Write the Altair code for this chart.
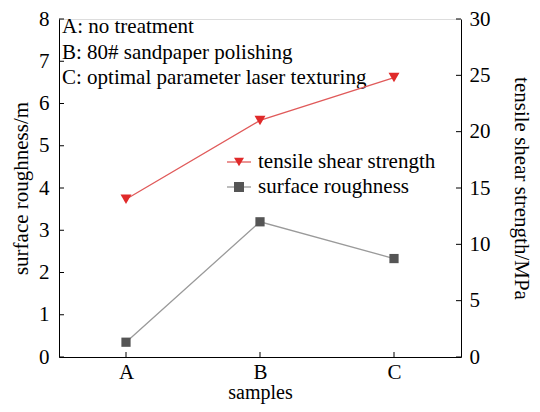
import altair as alt
import pandas as pd

samples = ["A", "B", "C"]
sample_pos = [1, 2, 3]
roughness = [0.35, 3.2, 2.33]
strength = [14.0, 21.0, 24.8]
notes = ["A: no treatment", "B: 80# sandpaper polishing", "C: optimal parameter laser texturing"]
series_names = ["tensile shear strength", "surface roughness"]
left_ticks = [0, 1, 2, 3, 4, 5, 6, 7, 8]
right_ticks = [0, 5, 10, 15, 20, 25, 30]

FONT = "Liberation Serif"
FS = 21
W, H = 402, 338

df_r = pd.DataFrame({"pos": sample_pos, "val": roughness, "series": series_names[1]})
df_s = pd.DataFrame({"pos": sample_pos, "val": strength, "series": series_names[0]})
df_notes = pd.DataFrame({"t": notes, "i": [0, 1, 2]})
df_leg = pd.DataFrame({"series": series_names, "i": [0, 1]})

xscale = alt.Scale(domain=[0.5, 3.5], nice=False, zero=False)
yl = alt.Scale(domain=[0, 8], nice=False)
yr = alt.Scale(domain=[0, 30], nice=False)

color_scale = alt.Scale(domain=series_names, range=["#e02a2a", "#555555"])
line_scale = alt.Scale(domain=series_names, range=["#e05a5a", "#9a9a9a"])
shape_scale = alt.Scale(domain=series_names, range=["triangle-down", "square"])


def yaxis(title, values, orient, lp, tp):
    return alt.Axis(values=values, title=title, orient=orient, tickSize=0, labelPadding=lp, titlePadding=tp,
                    grid=False, labelFontSize=FS, titleFontSize=FS, labelFont=FONT, titleFont=FONT,
                    domainColor="black", labelColor="black", titleColor="black", titleFontWeight="normal")


xaxis = alt.Axis(values=sample_pos, labelExpr="['','A','B','C'][datum.value]", title="samples",
                 tickSize=0, labelPadding=4, titlePadding=0, grid=False,
                 labelFontSize=FS, titleFontSize=20, labelFont=FONT, titleFont=FONT,
                 domainColor="black", labelColor="black", titleColor="black", titleFontWeight="normal")

r_line = alt.Chart(df_r).mark_line(color="#9a9a9a", strokeWidth=1.3).encode(
    x=alt.X("pos:Q", scale=xscale, axis=xaxis),
    y=alt.Y("val:Q", scale=yl, axis=yaxis("surface roughness/m", left_ticks, "left", 10, 7)),
)
r_pts = alt.Chart(df_r).mark_point(filled=True, size=85, opacity=1).encode(
    x=alt.X("pos:Q", scale=xscale),
    y=alt.Y("val:Q", scale=yl),
    color=alt.Color("series:N", scale=color_scale, legend=None),
    shape=alt.Shape("series:N", scale=shape_scale, legend=None),
)
left_layer = alt.layer(r_line, r_pts)

s_line = alt.Chart(df_s).mark_line(color="#e05a5a", strokeWidth=1.3).encode(
    x=alt.X("pos:Q", scale=xscale),
    y=alt.Y("val:Q", scale=yr, axis=yaxis("tensile shear strength/MPa", right_ticks, "right", 8, 20)),
)
s_pts = alt.Chart(df_s).mark_point(filled=True, size=120, opacity=1).encode(
    x=alt.X("pos:Q", scale=xscale),
    y=alt.Y("val:Q", scale=yr),
    color=alt.Color("series:N", scale=color_scale, legend=None),
    shape=alt.Shape("series:N", scale=shape_scale, legend=None),
)
right_layer = alt.layer(s_line, s_pts)

lt = alt.Chart(pd.DataFrame({"v": left_ticks})).mark_rule(color="black", strokeWidth=1).encode(
    y=alt.Y("v:Q", scale=yl, axis=None), x=alt.value(0), x2=alt.value(5))
rt = alt.Chart(pd.DataFrame({"v": right_ticks})).mark_rule(color="black", strokeWidth=1).encode(
    y=alt.Y("v:Q", scale=yr, axis=None), x=alt.value(W - 5), x2=alt.value(W))
bt = alt.Chart(pd.DataFrame({"v": sample_pos})).mark_rule(color="black", strokeWidth=1).encode(
    x=alt.X("v:Q", scale=xscale), y=alt.value(H - 5), y2=alt.value(H))

notes_layer = alt.Chart(df_notes).mark_text(align="left", baseline="middle", font=FONT, fontSize=FS,
                                            color="black").encode(
    x=alt.value(3), y=alt.Y("i:Q", scale=alt.Scale(domain=[0, 1], range=[8, 33.5]), axis=None), text="t:N")

leg_y = alt.Y("i:Q", scale=alt.Scale(domain=[0, 1], range=[143, 168]), axis=None)
leg_lines = alt.Chart(df_leg).mark_rule(strokeWidth=1.3).encode(
    y=leg_y, x=alt.value(168), x2=alt.value(192),
    color=alt.Color("series:N", scale=line_scale, legend=None))
leg_pts = alt.Chart(df_leg).mark_point(filled=True, size=100, opacity=1).encode(
    y=leg_y, x=alt.value(180),
    color=alt.Color("series:N", scale=color_scale, legend=None),
    shape=alt.Shape("series:N", scale=shape_scale, legend=None))
leg_text = alt.Chart(df_leg).mark_text(align="left", baseline="middle", font=FONT, fontSize=FS,
                                       color="black").encode(y=leg_y, x=alt.value(199), text="series:N")

chart = alt.layer(left_layer, lt, notes_layer, right_layer, rt, bt, leg_lines, leg_pts, leg_text).resolve_scale(
    y="independent", color="independent").properties(
    width=W, height=H, autosize=alt.AutoSizeParams(type="none"),
    padding={"left": 51, "top": 11, "right": 71, "bottom": 47},
).configure_view(stroke="black", strokeWidth=1).configure(background="white")

chart.save("out.html", embed_options={"renderer": "svg", "actions": False})
